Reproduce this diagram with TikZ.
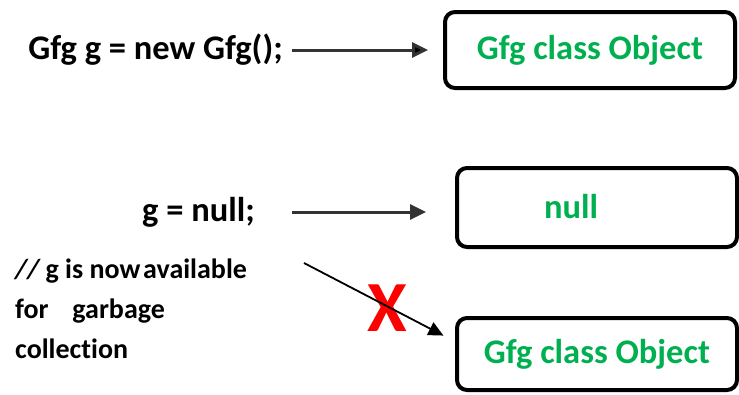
\documentclass[tikz,border=0pt]{standalone}
\usepackage{fontspec}
\setmainfont{Carlito}[Ligatures=NoCommon]
\usetikzlibrary{arrows.meta}

\definecolor{objgreen}{RGB}{0,176,80}

\begin{document}
\begin{tikzpicture}[x=1pt, y=-1pt,
	objbox/.style={draw=black, line width=4pt, rounded corners=10pt, text=objgreen, font=\bfseries\fontsize{34.5}{40}\selectfont},
	codetext/.style={font=\bfseries\fontsize{34.5}{40}\selectfont, anchor=east, inner sep=0pt},
	arrow/.style={-{Triangle[length=16pt,width=15pt]}, line width=3pt, draw=black!80}]
	
	\useasboundingbox (0, 0) rectangle (739, 394);
	
	\node[objbox, minimum width=290pt, minimum height=76pt] (obja) at (590, 50)     {Gfg class Object};
	\node[objbox, minimum width=280pt, minimum height=79pt] (nullbox) at (597, 207.5) {};
	\node[objbox, minimum width=280pt, minimum height=72pt] (objb) at (597, 354)    {Gfg class Object};
	\node[text=objgreen, font=\bfseries\fontsize{34.5}{40}\selectfont] (nulltext) at (571, 207) {null};
	
	\node[codetext] (decl) at (283, 50)        {Gfg g = new Gfg();};
	\node[codetext] (nullassign) at (255, 212) {g = null;};
	\node[align=left, anchor=north west, inner sep=0pt, font=\bfseries\fontsize{28}{40}\selectfont] (comment) at (15, 259)
		{\textit{//}\,g is now\hspace{0.1em}available\\for\hspace{0.85em}garbage\\collection};
	\node[text=red, font=\bfseries\fontsize{72}{72}\selectfont] (cross) at (387, 308) {X};
	
	\coordinate (gcut) at (304, 263);
	
	\path[arrow, shorten <=9pt, shorten >=15pt] (decl) edge (obja);
	\draw[arrow, shorten <=37pt, shorten >=29pt] (nullassign.east) -- (nullassign.east -| nullbox.west);
	\draw[-{Triangle[length=15pt,width=14pt]}, line width=1.8pt, shorten >=13pt] (gcut) -- (objb.175);
	
\end{tikzpicture}
\end{document}
